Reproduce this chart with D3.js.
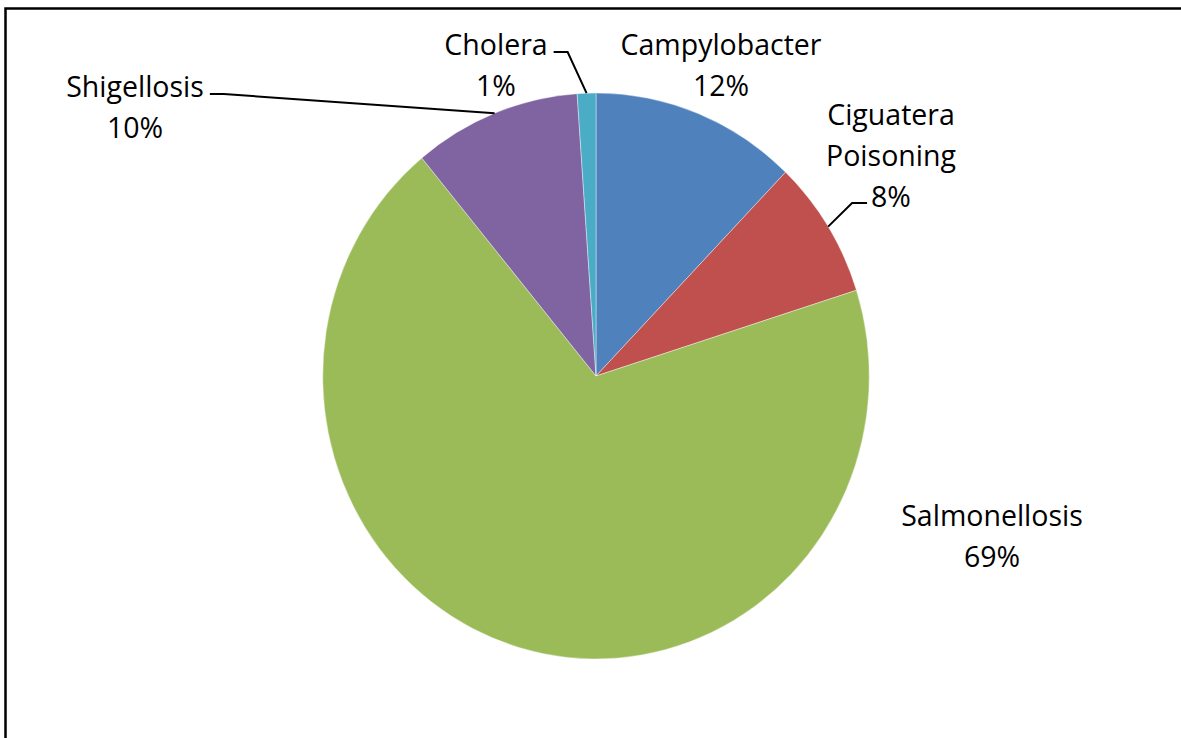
<!DOCTYPE html>
<html>
<head>
<meta charset="utf-8">
<script src="https://cdn.jsdelivr.net/npm/d3@7"></script>
<style>
    html, body { margin: 0; padding: 0; background: #fff; }
    svg { display: block; }
    text { font-family: "Open Sans", sans-serif; font-size: 28.5px; fill: #000; }
</style>
</head>
<body>
<div id="chart"></div>
<script>
// data (share of outbreaks, %)
var categories = ["Campylobacter", "Ciguatera Poisoning", "Salmonellosis", "Shigellosis", "Cholera"];
var values = [12.2, 7.9, 68.9, 9.9, 1.1];
var colors = ["#4F81BD", "#C0504D", "#9BBB59", "#8064A2", "#4BACC6"];
// how each label is broken into lines
var labelLines = [["Campylobacter"], ["Ciguatera", "Poisoning"], ["Salmonellosis"], ["Shigellosis"], ["Cholera"]];

var width = 1181, height = 738;
var cx = 596, cy = 376;
var rx = 273.3, ry = 283;

// label centre (first baseline) relative to pie centre, and leader side
var labelLayout = [
    { dx: 125, dy: -321, leader: null },
    { dx: 295, dy: -251, leader: 'left' },
    { dx: 396, dy: 150, leader: null },
    { dx: -461, dy: -279, leader: 'right' },
    { dx: -100, dy: -321, leader: 'right' }
];

var svg = d3.select("#chart").append("svg")
    .attr("width", width)
    .attr("height", height);

svg.append("rect")
    .attr("x", 5.5)
    .attr("y", 8.5)
    .attr("width", 1300)
    .attr("height", 900)
    .attr("fill", "none")
    .attr("stroke", "#000")
    .attr("stroke-width", 2.5);

var pie = d3.pie().sort(null).value(function(d) { return d; });
var arcs = pie(values);
var total = d3.sum(values);
var pct = d3.format(".0%");

var arc = d3.arc().innerRadius(0).outerRadius(ry);

// pie is slightly squashed horizontally in the original
var g = svg.append("g")
    .attr("transform", "translate(" + cx + "," + cy + ") scale(" + (rx / ry) + ",1)");

g.selectAll("path")
    .data(arcs)
    .enter().append("path")
    .attr("d", arc)
    .attr("fill", function(d, i) { return colors[i]; })
    .attr("stroke", "#fff")
    .attr("stroke-opacity", 0.5)
    .attr("stroke-width", 0.8);

function edgePoint(d) {
    var a = (d.startAngle + d.endAngle) / 2;
    return [cx + rx * Math.sin(a), cy - ry * Math.cos(a)];
}

var lineH = 41;

arcs.forEach(function(d, i) {
    var lay = labelLayout[i];
    var lines = labelLines[i].concat([pct(d.value / total)]);
    var x = cx + lay.dx, y0 = cy + lay.dy;

    var t = svg.append("text")
        .attr("text-anchor", "middle")
        .attr("x", x)
        .attr("y", y0);
    var spans = lines.map(function(s, k) {
        return t.append("tspan")
            .attr("x", x)
            .attr("y", y0 + k * lineH)
            .text(s);
    });

    if (!lay.leader) return;

    var p = edgePoint(d);
    var sx, sy, hx;
    if (lay.leader === 'right') {
        var w = spans[0].node().getComputedTextLength();
        sx = x + w / 2 + 6;
        sy = y0 - 3;
        hx = sx + 14;
    } else {
        var last = spans[spans.length - 1];
        var wl = last.node().getComputedTextLength();
        sx = x - wl / 2 - 4;
        sy = y0 + (spans.length - 1) * lineH - 4;
        hx = sx - 15;
    }
    svg.append("path")
        .attr("d", d3.line()([[sx, sy], [hx, sy], p]))
        .attr("fill", "none")
        .attr("stroke", "#000")
        .attr("stroke-width", 2);
});
</script>
</body>
</html>
